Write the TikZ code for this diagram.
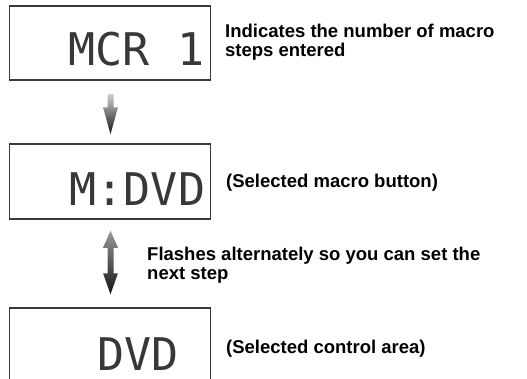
\documentclass[tikz,border=0pt]{standalone}
\usepackage{fontspec}
\setmainfont{Liberation Sans}
\newfontfamily\lcdfont{DejaVu Sans Mono}
\usepackage{tikz}
\usetikzlibrary{calc, positioning}
\definecolor{panelgray}{HTML}{3a3a3a}
\definecolor{dotgray}{HTML}{383838}

\tikzset{
  display/.style={draw=panelgray, line width=1.5pt, fill=white,
    minimum width=201pt, inner sep=0pt},
  lcd/.style={font=\lcdfont\fontsize{45}{45}\selectfont, text=dotgray,
    text depth=0pt, inner sep=0pt, anchor=base west},
  note/.style={font=\bfseries\fontsize{18.5}{19}\selectfont, align=left,
    inner sep=0pt, anchor=base west},
}

\begin{document}
\begin{tikzpicture}[x=1pt, y=-1pt]
				\useasboundingbox (0,0) rectangle (527,378);
				\clip (0,0) rectangle (527,378);

				% the three display panels
				\node[display, minimum height=74pt] (mcr) at (110,43) {};
				\node[display, minimum height=75pt] (mdvd) at (110,181.5) {};
				\node[display, minimum height=84pt] (dvd) at (110,350) {};

				\node[lcd] (mcrtxt) at (68.5,65) {MCR 1};
				\node[lcd] (mdvdtxt) at (69.5,205) {M:DVD};
				\node[lcd] (dvdtxt) at (97,370) {DVD};

				% notes beside the panels (base = last line)
				\node[note] (stepsnote) at (225,56) {Indicates the number of macro\\steps entered};
				\node[note] (buttonnote) at (226,187) {(Selected macro button)};
				\node[note] (flashnote) at (147,279) {Flashes alternately so you can set the\\next step};
				\node[note] (areanote) at (226,353) {(Selected control area)};

				% shaded arrows between the panels
				\coordinate (downtop) at ($(mcr.south)+(0.5,13)$);
				\coordinate (downtip) at ($(mdvd.north)+(0.5,-9)$);
				\shade[top color=black!18, bottom color=black!92]
				($(downtop)+(-3,0)$) -- ($(downtop)+(3,0)$) -- ($(downtip)+(3,-27)$)
				-- ($(downtip)+(7.5,-27)$) -- (downtip) -- ($(downtip)+(-7.5,-27)$)
				-- ($(downtip)+(-3,-27)$) -- cycle;

				\coordinate (uptip) at ($(mdvd.south)+(0.5,11)$);
				\coordinate (lowtip) at ($(dvd.north)+(0.5,-13)$);
				\shade[top color=black!40, bottom color=black!92]
				(uptip) -- ($(uptip)+(7.5,17)$) -- ($(uptip)+(3,17)$)
				-- ($(lowtip)+(3,-21)$) -- ($(lowtip)+(7.5,-21)$) -- (lowtip)
				-- ($(lowtip)+(-7.5,-21)$) -- ($(lowtip)+(-3,-21)$)
				-- ($(uptip)+(-3,17)$) -- ($(uptip)+(-7.5,17)$) -- cycle;
			\end{tikzpicture}
\end{document}
